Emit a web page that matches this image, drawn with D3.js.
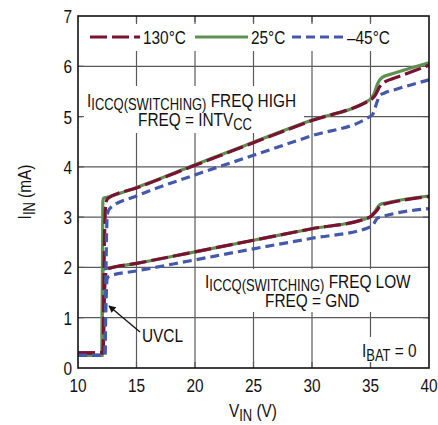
<!DOCTYPE html>
<html><head><meta charset="utf-8">
<script src="https://cdn.jsdelivr.net/npm/d3@7"></script>
<style>
body{margin:0;background:#fff;}
text{font-family:"Liberation Sans",Arial,sans-serif;fill:#111;}
</style></head>
<body><svg id="c" width="438" height="425"></svg>
<script>
// ---- data ----
const xTicks = [10,15,20,25,30,35,40];
const yTicks = [0,1,2,3,4,5,6,7];
const legendLabels = ["130°C","25°C","–45°C"];

// FREQ HIGH
const hot_high_v  = [10,12.15,12.25,12.4,12.55,15,20,25,30,34.6,35,35.4,35.8,36.3,37,40];
const hot_high_i  = [0.3,0.3,2.4,3.3,3.37,3.58,4.03,4.48,4.92,5.28,5.33,5.42,5.6,5.7,5.76,6.02];
const room_high_v = [10,12.05,12.12,12.2,12.4,15,20,25,30,34.6,35,35.3,35.6,36,37,40];
const room_high_i = [0.25,0.25,3.3,3.38,3.39,3.59,4.04,4.49,4.93,5.29,5.35,5.45,5.65,5.78,5.86,6.07];
const cold_high_v = [10,12.3,12.38,12.5,12.7,15,20,25,30,34.8,35.2,35.5,35.8,36.2,37,40];
const cold_high_i = [0.25,0.25,1.8,3.05,3.17,3.42,3.84,4.23,4.62,4.98,5.05,5.25,5.42,5.47,5.53,5.73];

// FREQ LOW
const hot_low_v  = [10,12.15,12.25,12.4,12.55,15,20,25,30,34.6,35,35.5,35.9,36.4,40];
const hot_low_i  = [0.3,0.3,1.4,1.9,1.97,2.08,2.31,2.54,2.77,2.97,3.01,3.12,3.24,3.27,3.41];
const room_low_v = [10,12.05,12.12,12.2,12.4,15,20,25,30,34.6,35,35.4,35.8,36.3,40];
const room_low_i = [0.25,0.25,1.9,1.97,1.98,2.08,2.31,2.54,2.77,2.97,3.01,3.12,3.25,3.28,3.42];
const cold_low_v = [10,12.3,12.38,12.5,12.7,15,20,25,30,34.7,35.2,35.6,36,40];
const cold_low_i = [0.25,0.25,1.2,1.78,1.83,1.93,2.15,2.37,2.58,2.78,2.84,2.98,3.01,3.17];

// ---- chart ----
const svg = d3.select("#c");
const L=78, R=429, T=16, B=368;
const x = d3.scaleLinear().domain([10,40]).range([L,R]);
const y = d3.scaleLinear().domain([0,7]).range([B,T]);
const gridCol="#5a5a5a";
const SX=0.81, FS=19, SUB=16;

function txt(parent,xp,yp,anchor,extra){
  return parent.append("text")
    .attr("transform",`translate(${xp},${yp})${extra||""} scale(${SX},1)`)
    .attr("text-anchor",anchor||"start").attr("font-size",FS);
}

// gridlines
svg.append("g").selectAll("line").data(xTicks.slice(1,-1)).join("line")
  .attr("x1",d=>x(d)).attr("x2",d=>x(d)).attr("y1",T).attr("y2",B)
  .attr("stroke",gridCol).attr("stroke-width",1.2);
svg.append("g").selectAll("line").data(yTicks.slice(1,-1)).join("line")
  .attr("y1",d=>y(d)).attr("y2",d=>y(d)).attr("x1",L).attr("x2",R)
  .attr("stroke",gridCol).attr("stroke-width",1.2);

// white boxes behind annotations
const boxes=[[82,24,400,51],[82,86,304,133],[197,269,R-1,312],[355,337,R-1,362]];
svg.append("g").selectAll("rect").data(boxes).join("rect")
  .attr("x",d=>d[0]).attr("y",d=>d[1]).attr("width",d=>d[2]-d[0]).attr("height",d=>d[3]-d[1])
  .attr("fill","#fff");

// inner ticks
const tk=6;
const tg=svg.append("g").attr("stroke",gridCol).attr("stroke-width",1.2);
xTicks.slice(1,-1).forEach(v=>{
  tg.append("line").attr("x1",x(v)).attr("x2",x(v)).attr("y1",B).attr("y2",B-tk);
  tg.append("line").attr("x1",x(v)).attr("x2",x(v)).attr("y1",T).attr("y2",T+tk);
});
yTicks.slice(1,-1).forEach(v=>{
  tg.append("line").attr("y1",y(v)).attr("y2",y(v)).attr("x1",L).attr("x2",L+tk);
  tg.append("line").attr("y1",y(v)).attr("y2",y(v)).attr("x1",R).attr("x2",R-tk);
});

// series
const red="#7a1232", green="#5e9150", blue="#4459ab";
const line=d3.line().x(d=>x(d[0])).y(d=>y(d[1])).curve(d3.curveMonotoneX);
const zip=(a,b)=>a.map((v,i)=>[v,b[i]]);
const series=[
  {v:room_high_v,i:room_high_i,c:green,dash:null},
  {v:room_low_v,i:room_low_i,c:green,dash:null},
  {v:hot_high_v,i:hot_high_i,c:red,dash:"17,5"},
  {v:hot_low_v,i:hot_low_i,c:red,dash:"17,5"},
  {v:cold_high_v,i:cold_high_i,c:blue,dash:"9,5"},
  {v:cold_low_v,i:cold_low_i,c:blue,dash:"9,5"}
];
svg.append("g").selectAll("path").data(series).join("path")
  .attr("d",d=>line(zip(d.v,d.i))).attr("fill","none")
  .attr("stroke",d=>d.c).attr("stroke-width",3.2)
  .attr("stroke-dasharray",d=>d.dash);

// frame
svg.append("rect").attr("x",L).attr("y",T).attr("width",R-L).attr("height",B-T)
  .attr("fill","none").attr("stroke","#111").attr("stroke-width",1.6);

// tick labels
const xl=svg.append("g");
xTicks.forEach(v=>{ txt(xl,x(v),392,"middle").text(v); });
const yl=svg.append("g");
yTicks.forEach(v=>{ txt(yl,72,y(v)+7,"end").text(v); });

// axis titles
const xt=txt(svg,253,417,"middle");
xt.append("tspan").text("V");
xt.append("tspan").attr("font-size",SUB).attr("dy",4).text("IN");
xt.append("tspan").attr("dy",-4).text(" (V)");
const yt=txt(svg,31,192,"middle"," rotate(-90)");
yt.append("tspan").text("I");
yt.append("tspan").attr("font-size",SUB).attr("dy",4).text("IN");
yt.append("tspan").attr("dy",-4).text(" (mA)");

// legend
const lg=svg.append("g");
const legX=[[90,140,143],[195,248,251],[292,345,347]];
const legS=[[red,"17,5"],[green,null],[blue,"9,5"]];
legendLabels.forEach((lab,k)=>{
  lg.append("line").attr("x1",legX[k][0]).attr("x2",legX[k][1]).attr("y1",37).attr("y2",37)
    .attr("stroke",legS[k][0]).attr("stroke-width",3.2).attr("stroke-dasharray",legS[k][1]);
  txt(lg,legX[k][2],44,"start").text(lab);
});

// annotations
function subLabel(xp,yp,pre,sub,post,dy){
  const t=txt(svg,xp,yp,"start");
  t.append("tspan").text(pre);
  t.append("tspan").attr("font-size",SUB).attr("dy",dy).text(sub);
  if(post) t.append("tspan").attr("dy",-dy).text(post);
  return t;
}
subLabel(87,107,"I","ICCQ(SWITCHING)"," FREQ HIGH",3);
subLabel(138,126,"FREQ = INTV","CC",null,4);
subLabel(205,288,"I","ICCQ(SWITCHING)"," FREQ LOW",3);
txt(svg,265,307,"start").text("FREQ = GND");
subLabel(362,357,"I","BAT"," = 0",4);
txt(svg,142,342,"start").text("UVCL");

// arrow
svg.append("defs").append("marker").attr("id","ah").attr("viewBox","0 0 10 10")
  .attr("refX",9).attr("refY",5).attr("markerWidth",9).attr("markerHeight",7)
  .attr("markerUnits","userSpaceOnUse").attr("orient","auto")
  .append("path").attr("d","M0,0L10,5L0,10Z").attr("fill","#111");
svg.append("line").attr("x1",140).attr("y1",332).attr("x2",109).attr("y2",306)
  .attr("stroke","#111").attr("stroke-width",1.3).attr("marker-end","url(#ah)");
</script></body></html>
